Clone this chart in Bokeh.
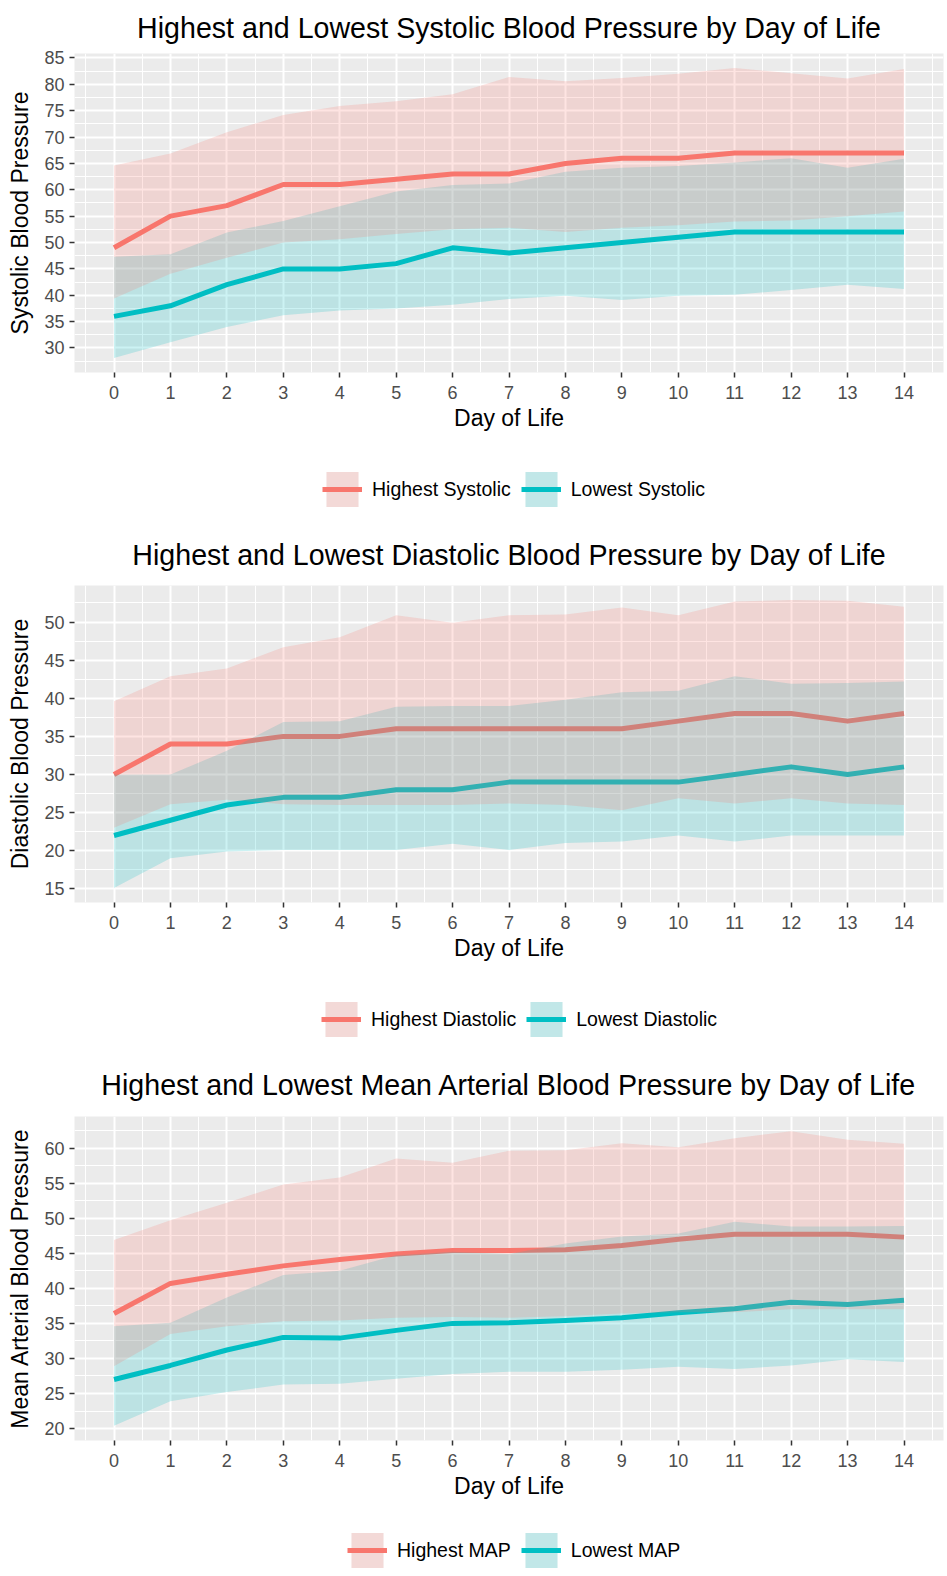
from bokeh.plotting import figure
from bokeh.models import Range1d, FixedTicker, Legend, LegendItem
from bokeh.layouts import column
from bokeh.embed import file_html
from bokeh.resources import INLINE

# ---------------- data ----------------
days = list(range(15))

sys_ticks = [30, 35, 40, 45, 50, 55, 60, 65, 70, 75, 80, 85]
dia_ticks = [15, 20, 25, 30, 35, 40, 45, 50]
map_ticks = [20, 25, 30, 35, 40, 45, 50, 55, 60]

sys_high = [49, 55, 57, 61, 61, 62, 63, 63, 65, 66, 66, 67, 67, 67, 67]
sys_high_upper = [64.6, 66.9, 70.9, 74.2, 75.9, 76.8, 78.1, 81.4, 80.6, 81.2, 82.0, 83.1, 82.1, 81.1, 82.9]
sys_high_lower = [39.4, 44.1, 47.1, 50.0, 50.6, 51.6, 52.5, 52.8, 52.0, 52.8, 53.3, 54.0, 54.2, 55.0, 55.9]
sys_low = [36, 38, 42, 45, 45, 46, 49, 48, 49, 50, 51, 52, 52, 52, 52]
sys_low_upper = [47.3, 47.8, 51.9, 54.1, 56.9, 59.7, 60.9, 61.2, 63.4, 64.2, 64.5, 65.2, 66.0, 64.2, 65.9]
sys_low_lower = [28.1, 31.1, 34.0, 36.2, 37.1, 37.5, 38.2, 39.3, 39.9, 39.1, 39.9, 40.1, 41.0, 42.0, 41.2]

dia_high = [30, 34, 34, 35, 35, 36, 36, 36, 36, 36, 37, 38, 38, 37, 38]
dia_high_upper = [39.6, 42.9, 43.9, 46.7, 48.0, 50.9, 49.9, 50.9, 51.0, 51.9, 50.9, 52.7, 52.9, 52.8, 52.0]
dia_high_lower = [23.0, 26.1, 26.7, 26.1, 26.0, 26.0, 26.0, 26.2, 26.0, 25.3, 26.9, 26.2, 26.9, 26.2, 26.0]
dia_low = [22, 24, 26, 27, 27, 28, 28, 29, 29, 29, 29, 30, 31, 30, 31]
dia_low_upper = [30.0, 30.0, 33.1, 36.9, 37.0, 38.9, 39.0, 39.0, 39.8, 40.8, 41.0, 42.9, 41.9, 42.0, 42.2]
dia_low_lower = [15.1, 19.0, 19.9, 20.1, 20.1, 20.1, 20.9, 20.1, 21.0, 21.2, 22.0, 21.2, 22.0, 22.0, 22.0]

map_high = [36.4, 40.7, 42.0, 43.2, 44.1, 44.9, 45.4, 45.4, 45.5, 46.1, 47.0, 47.7, 47.7, 47.7, 47.3]
map_high_upper = [46.9, 49.7, 52.2, 54.8, 55.8, 58.5, 57.9, 59.6, 59.7, 60.7, 60.1, 61.4, 62.4, 61.2, 60.6]
map_high_lower = [28.9, 33.5, 34.6, 35.3, 35.4, 35.8, 35.9, 35.8, 36.0, 36.4, 36.6, 36.6, 37.0, 37.0, 37.0]
map_low = [27.0, 29.0, 31.2, 33.0, 32.9, 34.0, 35.0, 35.1, 35.4, 35.8, 36.5, 37.1, 38.0, 37.7, 38.3]
map_low_upper = [34.6, 35.1, 38.7, 41.9, 42.5, 44.7, 45.2, 44.9, 46.4, 47.4, 47.8, 49.5, 48.8, 48.8, 48.9]
map_low_lower = [20.4, 23.9, 25.2, 26.3, 26.4, 27.1, 27.8, 28.1, 28.1, 28.4, 28.8, 28.5, 29.0, 29.9, 29.5]

titles = ["Highest and Lowest Systolic Blood Pressure by Day of Life",
          "Highest and Lowest Diastolic Blood Pressure by Day of Life",
          "Highest and Lowest Mean Arterial Blood Pressure by Day of Life"]
ylabels = ["Systolic Blood Pressure", "Diastolic Blood Pressure", "Mean Arterial Blood Pressure"]
legend_labels = [["Highest Systolic", "Lowest Systolic"],
                 ["Highest Diastolic", "Lowest Diastolic"],
                 ["Highest MAP", "Lowest MAP"]]
x_label = "Day of Life"

RED = "#F8766D"
TEAL = "#00BFC4"
FONT = "Liberation Sans"
W = 947
LEFT = 74
RIGHT = 4


def make_panel(title, ylabel, yticks, hi, hi_lo, hi_up, lo, lo_lo, lo_up,
               height, top, bottom, title_standoff):
    vals = hi + hi_lo + hi_up + lo + lo_lo + lo_up
    vmin, vmax = min(vals), max(vals)
    ypad = 0.05 * (vmax - vmin)
    xpad = 0.05 * (max(days) - min(days))
    p = figure(width=W, height=height, output_backend="svg", toolbar_location=None,
               x_range=Range1d(min(days) - xpad, max(days) + xpad),
               y_range=Range1d(vmin - ypad, vmax + ypad),
               min_border_left=LEFT, min_border_right=RIGHT,
               min_border_top=top, min_border_bottom=bottom,
               background_fill_color="#EBEBEB", border_fill_color="white",
               outline_line_color=None)

    xt = FixedTicker(ticks=days, minor_ticks=[d - 0.5 for d in days] + [max(days) + 0.5])
    step = yticks[1] - yticks[0]
    yt = FixedTicker(ticks=yticks,
                     minor_ticks=[t - step / 2 for t in yticks] + [yticks[-1] + step / 2])
    p.xaxis.ticker = xt
    p.xgrid.ticker = xt
    p.yaxis.ticker = yt
    p.ygrid.ticker = yt
    for g in (p.xgrid, p.ygrid):
        g.grid_line_color = "white"
        g.grid_line_width = 2
        g.minor_grid_line_color = "white"
        g.minor_grid_line_width = 1

    # lines first, ribbons drawn over them (as in the original)
    p.line(days, hi, line_color=RED, line_width=5, line_join="round")
    p.line(days, lo, line_color=TEAL, line_width=5, line_join="round")
    p.varea(x=days, y1=lo_lo, y2=lo_up, fill_color=TEAL, fill_alpha=0.2)
    p.varea(x=days, y1=hi_lo, y2=hi_up, fill_color=RED, fill_alpha=0.2)

    p.title.text = title
    p.title.align = "center"
    p.title.text_font = FONT
    p.title.text_font_size = "28.6px"
    p.title.text_font_style = "normal"
    p.title.text_color = "black"
    p.title.standoff = title_standoff

    p.xaxis.axis_label = x_label
    p.yaxis.axis_label = ylabel
    for ax in (p.xaxis, p.yaxis):
        ax.axis_line_color = None
        ax.major_tick_line_color = "#333333"
        ax.major_tick_line_width = 1.5
        ax.major_tick_out = 5
        ax.major_tick_in = 0
        ax.minor_tick_line_color = None
        ax.major_label_text_font = FONT
        ax.major_label_text_font_size = "18px"
        ax.major_label_text_color = "#4D4D4D"
        ax.axis_label_text_font = FONT
        ax.axis_label_text_font_size = "23px"
        ax.axis_label_text_font_style = "normal"
        ax.axis_label_text_color = "black"
    p.xaxis.major_label_standoff = 8
    p.xaxis.axis_label_standoff = 3
    p.yaxis.major_label_standoff = 5
    p.yaxis.axis_label_standoff = 8
    return p


def make_legend(labels, hi, lo, height, loc):
    # the renderers carry the real series, but this strip's view range lies away
    # from them, so only their legend keys are seen
    q = figure(width=W, height=height, output_backend="svg", toolbar_location=None,
               x_axis_type=None, y_axis_type=None,
               x_range=Range1d(-1000, -999), y_range=Range1d(-1000, -999),
               min_border_left=LEFT, min_border_right=RIGHT,
               min_border_top=0, min_border_bottom=0,
               outline_line_color=None, background_fill_color="white",
               border_fill_color="white")
    q.xgrid.visible = False
    q.ygrid.visible = False
    key_bg = q.varea(x=days, y1=hi, y2=hi, fill_color="#F2F2F2", fill_alpha=1.0)
    items = []
    for lab, col, ser in zip(labels, (RED, TEAL), (hi, lo)):
        band = q.varea(x=days, y1=ser, y2=ser, fill_color=col, fill_alpha=0.2)
        ln = q.line(x=days, y=ser, line_color=col, line_width=5)
        items.append(LegendItem(label=lab, renderers=[key_bg, band, ln]))
    legend = Legend(items=items, orientation="horizontal", location=loc,
                    glyph_width=40, glyph_height=44, label_standoff=10, spacing=10,
                    label_text_font=FONT, label_text_font_size="19.5px",
                    label_text_color="black",
                    border_line_color=None, background_fill_alpha=0,
                    padding=0, margin=0)
    q.add_layout(legend, "center")
    return q


p1 = make_panel(titles[0], ylabels[0], sys_ticks, sys_high, sys_high_lower, sys_high_upper,
                sys_low, sys_low_lower, sys_low_upper,
                height=458, top=52, bottom=86, title_standoff=19)
l1 = make_legend(legend_labels[0], sys_high, sys_low, 64, (248, 11))
p2 = make_panel(titles[1], ylabels[1], dia_ticks, dia_high, dia_high_lower, dia_high_upper,
                dia_low, dia_low_lower, dia_low_upper,
                height=466, top=62, bottom=86, title_standoff=29)
l2 = make_legend(legend_labels[1], dia_high, dia_low, 61, (247, 8))
p3 = make_panel(titles[2], ylabels[2], map_ticks, map_high, map_high_lower, map_high_upper,
                map_low, map_low_lower, map_low_upper,
                height=477, top=67, bottom=86, title_standoff=32)
l3 = make_legend(legend_labels[2], map_high, map_low, 50, (273, 4))

layout = column(p1, l1, p2, l2, p3, l3, spacing=0)
open("out.html", "w").write(file_html(layout, INLINE))
